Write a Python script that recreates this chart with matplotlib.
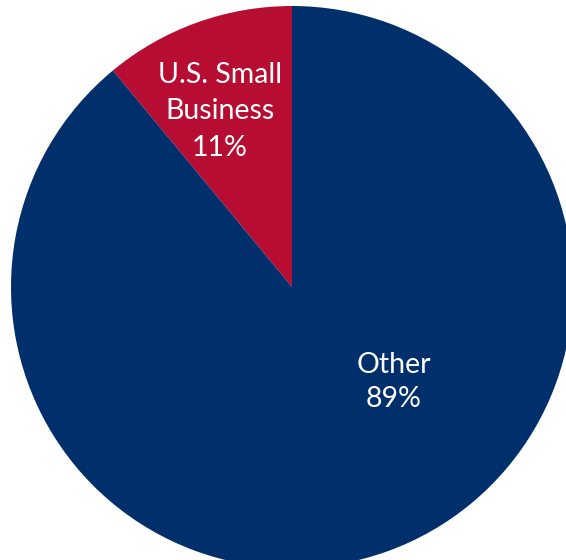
import matplotlib.pyplot as plt

# share of total, percent
labels = ["U.S. Small\nBusiness", "Other"]
shares = [11, 89]
colors = ["#B80D32", "#002F6C"]

W, H = 566, 560
fig = plt.figure(figsize=(W / 100, H / 100), dpi=100)
ax = fig.add_axes([0, 0, 1, 1])
ax.set_xlim(0, W)
ax.set_ylim(0, H)
ax.set_aspect("equal")
ax.axis("off")

cx, cy, r = 292, H - 287, 281
ax.pie(shares, colors=colors, startangle=90, counterclock=True,
       center=(cx, cy), radius=r, frame=True,
       wedgeprops=dict(linewidth=0))
ax.set_xlim(0, W)
ax.set_ylim(0, H)
ax.axis("off")

# label lines, baselines in pixels from top
label_pos = [(220, [83, 119, 156]), (394, [373, 407])]
for (x, baselines), lab, val in zip(label_pos, labels, shares):
    lines = lab.split("\n") + [f"{val}%"]
    for y, s in zip(baselines, lines):
        ax.text(x, H - y, s, ha="center", va="baseline", color="white",
                fontsize=20.5, family="Lato")

fig.savefig("out.png", dpi=100)
